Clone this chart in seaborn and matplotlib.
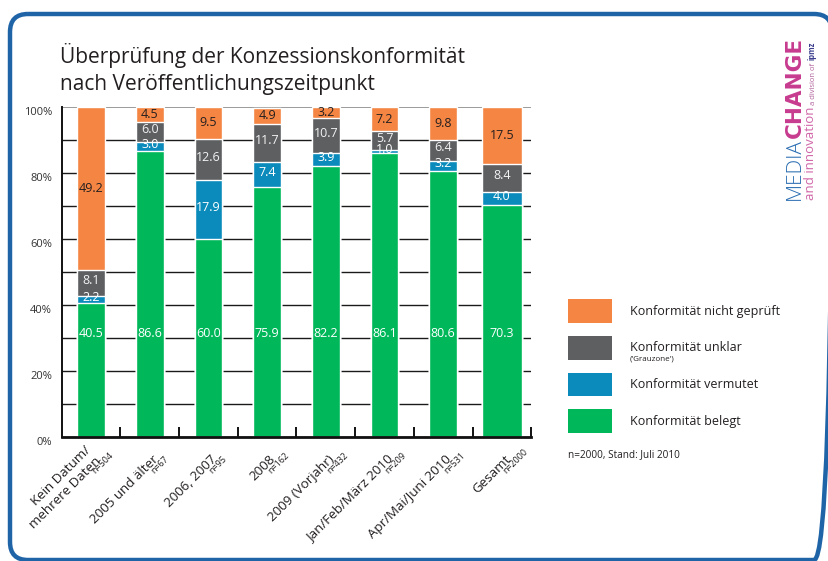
import numpy as np
import pandas as pd
import matplotlib
matplotlib.use("Agg")
import matplotlib.pyplot as plt
import seaborn as sns
from matplotlib.patches import Patch, FancyBboxPatch

# --- data (percent per category) ---
categories = ["Kein Datum/\nmehrere Daten", "2005 und älter", "2006, 2007", "2008",
              "2009 (Vorjahr)", "Jan/Feb/März 2010", "Apr/Mai/Juni 2010", "Gesamt"]
n_values = [504, 67, 95, 162, 432, 209, 531, 2000]
belegt = [40.5, 86.6, 60.0, 75.9, 82.2, 86.1, 80.6, 70.3]
vermutet = [2.2, 3.0, 17.9, 7.4, 3.9, 1.0, 3.2, 4.0]
unklar = [8.1, 6.0, 12.6, 11.7, 10.7, 5.7, 6.4, 8.4]
nicht_geprueft = [49.2, 4.5, 9.5, 4.9, 3.2, 7.2, 9.8, 17.5]
y_ticks = [0, 20, 40, 60, 80, 100]

legend_labels = ["Konformität nicht geprüft", "Konformität unklar",
                 "Konformität vermutet", "Konformität belegt"]

ORANGE = "#f58542"
GRAY = "#5e5f61"
BLUE = "#0a8bbb"
GREEN = "#00b85a"
TEXT = "#231f20"

BAR_WIDTH = 0.47
TOTAL_BAR_WIDTH = 0.68
GREEN_LABEL_Y = 31.5
LABEL_LIFT = 0.7  # small upward nudge of the segment labels

df = pd.DataFrame({
    "Kategorie": categories,
    "belegt": belegt,
    "vermutet": vermutet,
    "unklar": unklar,
    "nicht_geprueft": nicht_geprueft,
})
df["ist_gesamt"] = df["Kategorie"] == "Gesamt"
df["top_belegt"] = df["belegt"]
df["top_vermutet"] = df["top_belegt"] + df["vermutet"]
df["top_unklar"] = df["top_vermutet"] + df["unklar"]
df["top_nicht_geprueft"] = df["top_unklar"] + df["nicht_geprueft"]

sns.set_theme(style="white")
plt.rcParams["font.family"] = ["Open Sans", "DejaVu Sans"]

fig = plt.figure(figsize=(8.29, 5.61), dpi=100)

# background layer in pixel coordinates: frame, title, notes, logo
bg = fig.add_axes([0, 0, 1, 1], zorder=0)
bg.set_xlim(0, 829)
bg.set_ylim(561, 0)
bg.axis("off")
bg.add_patch(FancyBboxPatch((10, 14), 822, 546, boxstyle="round,pad=0,rounding_size=18",
                            fill=False, ec="#1e64a7", lw=3.2))
bg.text(60, 63, "Überprüfung der Konzessionskonformität", fontsize=15, color=TEXT, va="baseline")
bg.text(60, 90, "nach Veröffentlichungszeitpunkt", fontsize=15, color=TEXT, va="baseline")

# chart
ax = fig.add_axes([0.0744, 0.221, 0.5664, 0.5877], zorder=1)
ax.patch.set_alpha(0)

stack = [("nicht_geprueft", ORANGE), ("unklar", GRAY), ("vermutet", BLUE), ("belegt", GREEN)]
for layer, color in stack:
    for is_total, sub in df.groupby("ist_gesamt"):
        sns.barplot(data=sub, x="Kategorie", y=f"top_{layer}", order=categories,
                    color=color, saturation=1, errorbar=None, ax=ax,
                    width=TOTAL_BAR_WIDTH if is_total else BAR_WIDTH)

ax.set_ylim(0, 100)
ax.set_xlabel("")
ax.set_ylabel("")
ax.set_axisbelow(True)

ax.set_yticks(y_ticks)
ax.set_yticklabels([f"{v}%" for v in y_ticks])
ax.set_yticks(np.arange(10, 100, 20), minor=True)
ax.grid(axis="y", which="both", color="#1a1a1a", lw=1.0)
ax.yaxis.get_major_ticks()[-1].gridline.set_color("#9a9a9a")
ax.yaxis.get_major_ticks()[-1].gridline.set_linewidth(0.7)
ax.tick_params(axis="y", which="both", length=0, labelsize=8, labelcolor="#333333", pad=7)
for lab in ax.get_yticklabels():
    lab.set_va("top")

ax.set_xticks(np.arange(0.5, len(categories), 1), minor=True)
ax.tick_params(axis="x", which="major", length=0, labelbottom=False)
ax.tick_params(axis="x", which="minor", bottom=True, direction="in", length=7, width=1.4, color="#111111")

ax.spines[["top", "right"]].set_visible(False)
ax.spines["left"].set_linewidth(1.4)
ax.spines["left"].set_color("#111111")
ax.spines["bottom"].set_linewidth(2)
ax.spines["bottom"].set_color("#111111")

# value labels
for i in range(len(categories)):
    ax.text(i, GREEN_LABEL_Y, f"{belegt[i]:.1f}", ha="center", va="center", fontsize=9, color="white")
    ax.text(i, df["top_belegt"][i] + vermutet[i] / 2 + LABEL_LIFT, f"{vermutet[i]:.1f}",
            ha="center", va="center", fontsize=9, color="white")
    ax.text(i, df["top_vermutet"][i] + unklar[i] / 2 + LABEL_LIFT, f"{unklar[i]:.1f}",
            ha="center", va="center", fontsize=9, color="#f2f2f2")
    ax.text(i, df["top_unklar"][i] + nicht_geprueft[i] / 2, f"{nicht_geprueft[i]:.1f}",
            ha="center", va="center", fontsize=9, color=TEXT)

# rotated category labels with sample sizes
for i, (cat, n) in enumerate(zip(categories, n_values)):
    ax.annotate(cat, xy=(i, 0), xycoords=ax.get_xaxis_transform(), xytext=(6.5, -16.5),
                textcoords="offset points", rotation=45, rotation_mode="anchor",
                ha="right", va="baseline", multialignment="right", fontsize=9.6,
                color=TEXT, annotation_clip=False)
    ax.annotate(f"n={n}", xy=(i, 0), xycoords=ax.get_xaxis_transform(), xytext=(3.0, -26.6),
                textcoords="offset points", rotation=45, rotation_mode="anchor",
                ha="left", va="baseline", fontsize=6.4, color=TEXT, annotation_clip=False)

# legend
handles = [Patch(facecolor=c, edgecolor="none") for c in [ORANGE, GRAY, BLUE, GREEN]]
fig.legend(handles, legend_labels, loc="upper left", bbox_to_anchor=(568 / 829, 1 - 299 / 561),
           bbox_transform=fig.transFigure, frameon=False, fontsize=9, labelcolor=TEXT,
           handlelength=3.5, handleheight=2.55, labelspacing=1.04, handletextpad=1.45,
           borderpad=0, borderaxespad=0)
bg.text(630, 359, "('Grauzone')", fontsize=5.8, color=TEXT, va="center")
bg.text(568, 455, "n=2000, Stand: Juli 2010", fontsize=7.2, color=TEXT, va="center")

# logo
media = bg.text(805, 200, "MEDIA", rotation=90, ha="right", va="bottom",
                fontsize=15, fontweight="light", color="#2a6db2")
bg.annotate("CHANGE", xy=(1, 1), xycoords=media, ha="right", va="bottom", rotation=90,
            fontsize=15.5, fontweight="bold", family="DejaVu Sans", color="#c73b8f")
inno = bg.text(817, 200, "and innovation", rotation=90, ha="right", va="bottom",
               fontsize=9.5, color="#d066a8")
div = bg.annotate(" a division of ", xy=(1, 1), xycoords=inno, ha="right", va="bottom",
                  rotation=90, fontsize=5.5, color="#b0609a")
bg.annotate("ipmz", xy=(1, 1), xycoords=div, ha="right", va="bottom", rotation=90,
            fontsize=5.5, fontweight="bold", color="#3d3f8f")

fig.savefig("out.png", dpi=100)
